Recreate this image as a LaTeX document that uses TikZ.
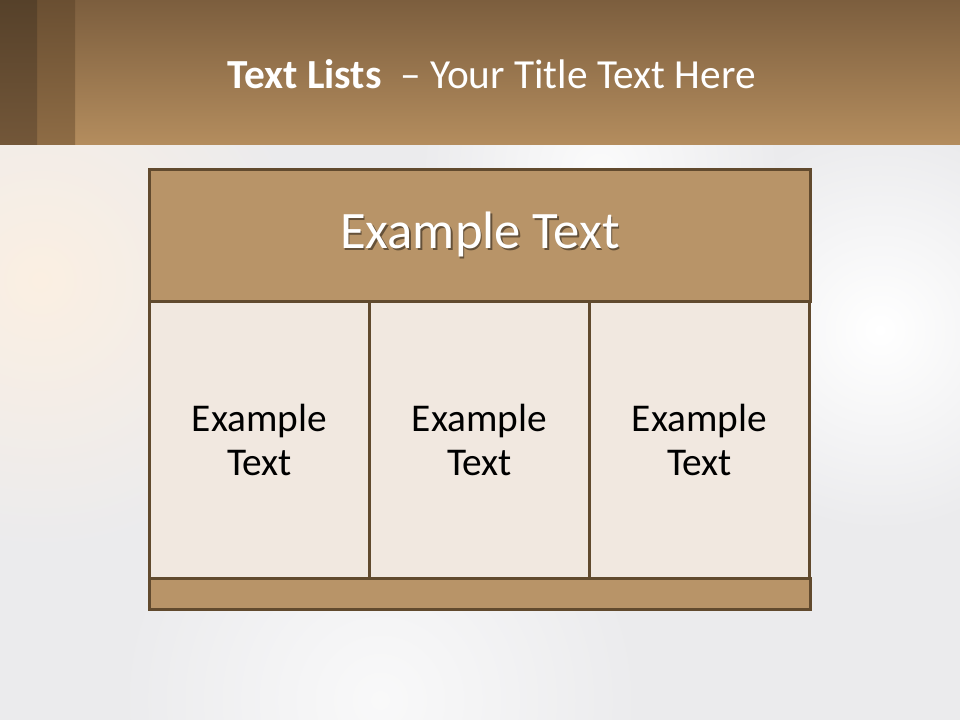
\documentclass[tikz,border=0pt]{standalone}
\usepackage{fontspec}
\setmainfont{Carlito}
\usetikzlibrary{calc}
\definecolor{bgc}{HTML}{EBEBED}
\definecolor{peach}{HTML}{FBEFE2}
\definecolor{bandtop}{HTML}{7C5E3E}
\definecolor{bandbot}{HTML}{B48D5E}
\definecolor{s1top}{HTML}{56412A}
\definecolor{s1bot}{HTML}{735739}
\definecolor{s2top}{HTML}{6A4F32}
\definecolor{s2bot}{HTML}{8E6C45}
\definecolor{hdrfill}{HTML}{B89468}
\definecolor{cellfill}{HTML}{F1E8E0}
\definecolor{border}{HTML}{614A2E}
\colorlet{shadowc}{hdrfill!55!black}
\tikzset{
  boxstyle/.style={draw=border, line width=2.25pt, rectangle, inner sep=0pt, anchor=north west},
  cellbox/.style={boxstyle, fill=cellfill, minimum width=220*0.75pt, minimum height=277*0.75pt,
     align=center, font=\fontsize{29.5}{33}\selectfont, text=black},
}
\newcommand{\shadowtext}[1]{\rlap{\kern1.2pt\raisebox{-1.4pt}{\textcolor{shadowc}{#1}}}#1}
\begin{document}
\begin{tikzpicture}[x=0.75pt,y=-0.75pt]
\useasboundingbox (0,0) rectangle (960,720);
% background
\fill[bgc] (0,0) rectangle (960,720);
\begin{scope}
\clip (0,145) rectangle (960,720);
\shade[inner color=peach, outer color=bgc] (40,280) circle (270);
\shade[inner color=white, outer color=bgc] (880,330) circle (200);
\shade[inner color=white!70!bgc, outer color=bgc] (380,700) circle (260);
\shade[inner color=white!80!bgc, outer color=bgc] (600,170) circle (180);
\end{scope}
% header band
\shade[top color=bandtop, bottom color=bandbot] (0,0) rectangle (960,145);
\shade[top color=s2top, bottom color=s2bot] (37,0) rectangle (75,145);
\shade[top color=s1top, bottom color=s1bot] (0,0) rectangle (37,145);
\node[anchor=base, text=white, font=\fontsize{31}{36}\selectfont, inner sep=0pt] (title) at (491.5,89)
  {\textbf{Text Lists}\ \ – Your Title Text Here};
% table
\node[boxstyle, fill=hdrfill, minimum width=661*0.75pt, minimum height=132*0.75pt,
      text=white, font=\fontsize{39.5}{44}\selectfont] (hdr) at (148,168) {\shadowtext{Example Text}};
\node[cellbox] (c1) at (148,300) {Example\\Text};
\node[cellbox] (c2) at (368,300) {Example\\Text};
\node[cellbox] (c3) at (588,300) {Example\\Text};
\node[boxstyle, fill=hdrfill, minimum width=661*0.75pt, minimum height=31*0.75pt] (foot) at (148,577) {};
\end{tikzpicture}
\end{document}
